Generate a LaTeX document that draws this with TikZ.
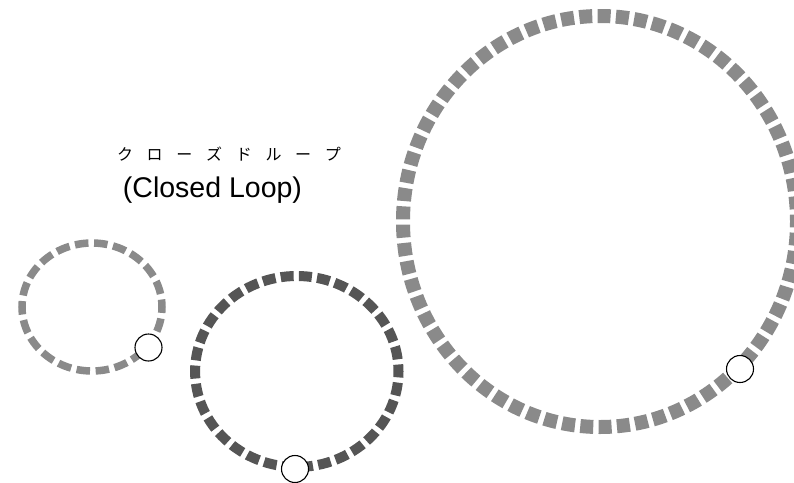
\documentclass[tikz,border=0pt]{standalone}
\usepackage{fontspec}
\setmainfont{Liberation Sans}
\newfontfamily\jpfont{Noto Sans CJK JP}
\definecolor{ringlight}{HTML}{8A8A8A}
\definecolor{ringdark}{HTML}{555555}
\begin{document}
\begin{tikzpicture}[x=1pt,y=-1pt,
  ring/.style={line cap=butt},
  port/.style={circle,draw=black,fill=white,line width=1.1pt,inner sep=0pt,minimum size=27pt},
  jp/.style={font=\jpfont\fontsize{16pt}{19pt}\selectfont,inner sep=0pt},
  en/.style={font=\fontsize{28.5pt}{32pt}\selectfont,inner sep=0pt}]
\useasboundingbox (0,0) rectangle (794,482);
% rings
\draw[ring,draw=ringlight,line width=7.5pt,dash pattern=on 13.5pt off 5.65pt,dash phase=6pt]
  (92,307) ellipse [x radius=70pt, y radius=64pt];
\draw[ring,draw=ringdark,line width=10pt,dash pattern=on 13pt off 5.23pt,dash phase=6pt]
  (296.8,371.5) ellipse [x radius=101.7pt, y radius=95.5pt];
\draw[ring,draw=ringlight,line width=14pt,dash pattern=on 13pt off 5.33pt,dash phase=6pt]
  (600,221.5) ellipse [x radius=197pt, y radius=205.5pt];
% ports
\node[port] (p1) at (148.5,347.5) {};
\node[port] (p2) at (295,469) {};
\node[port] (p3) at (740,369) {};
% labels
\node[jp] (jp) at (229,154) {ク\hspace{13.7pt}ロ\hspace{13.7pt}ー\hspace{13.7pt}ズ\hspace{13.7pt}ド\hspace{13.7pt}ル\hspace{13.7pt}ー\hspace{13.7pt}プ};
\node[en,anchor=base] (en) at (212.5,197) {(Closed Loop)};
\end{tikzpicture}
\end{document}
